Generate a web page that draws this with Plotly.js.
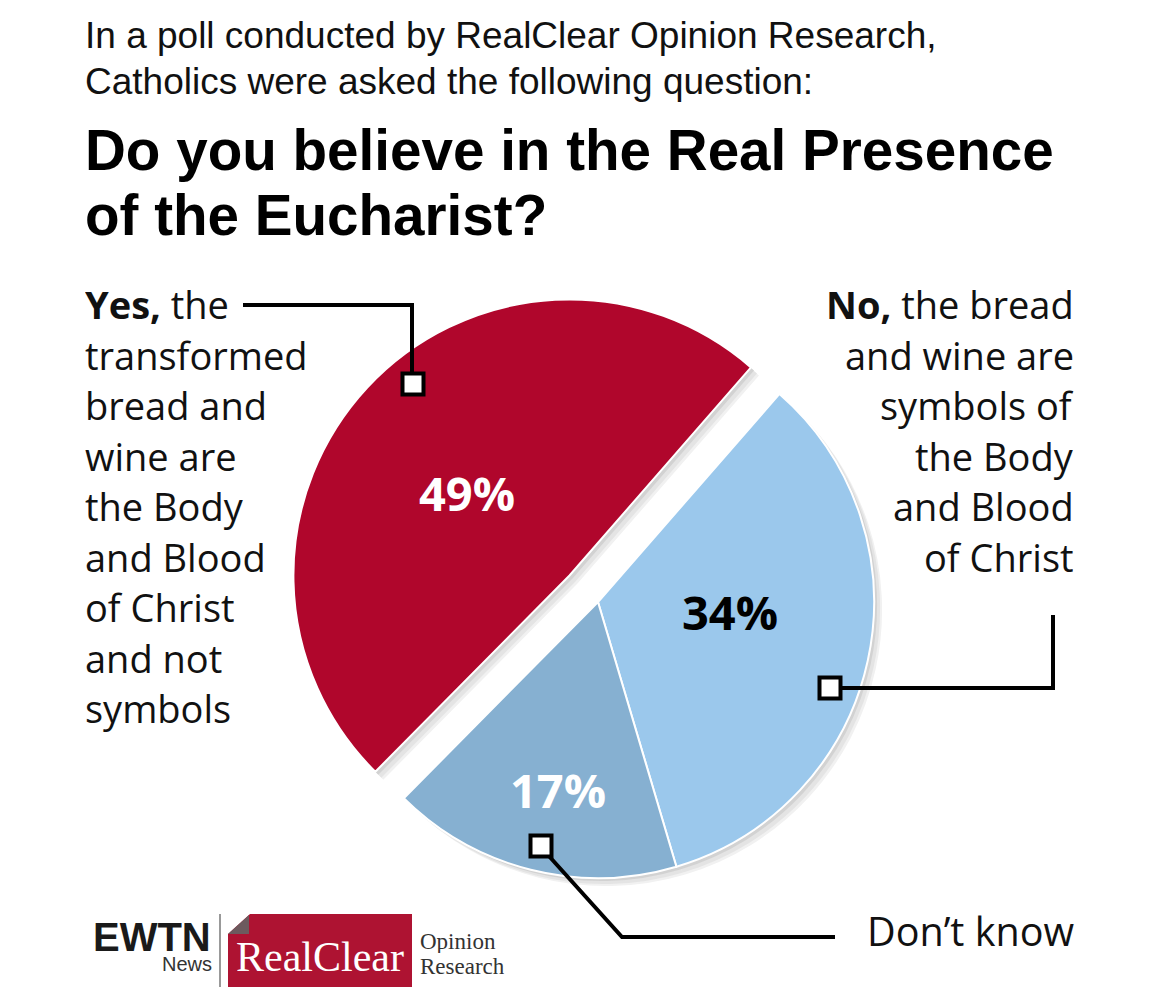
<!DOCTYPE html>
<html><head><meta charset="utf-8">
<script src="https://cdn.plot.ly/plotly-3.0.1.min.js"></script>
<style>html,body{margin:0;padding:0;background:#fff}</style></head>
<body><div id="chart" style="width:1154px;height:1008px"></div>
<script>
const categories = ["Yes", "No", "Don't know"];
const values = [49, 34, 17];
const sliceColors = ["#b0062c", "#9bc8ec", "#86b0d1"];
const pullAmounts = [0.141, 0, 0];
const introLines = ["In a poll conducted by RealClear Opinion Research,", "Catholics were asked the following question:"];
const titleLines = ["Do you believe in the Real Presence", "of the Eucharist?"];
const yesLines = ["<b>Yes,</b> the", "transformed", "bread and", "wine are", "the Body", "and Blood", "of Christ", "and not", "symbols"];
const noLines = ["<b>No,</b> the bread", "and wine are", "symbols of", "the Body", "and Blood", "of Christ"];
const otherLabel = "Don’t know";

const W = 1154, H = 1008;
const px = x => x / W, py = y => 1 - y / H;
const BODY = '"Open Sans", "Noto Sans", sans-serif';
const SANS = '"Liberation Sans", Arial, sans-serif';
const SERIF = '"Liberation Serif", serif';

function note(text, x, y, size, color, family, anchor, boxHeight) {
  const a = {text, x: px(x), y: py(y), xref: 'paper', yref: 'paper', xanchor: anchor || 'left', yanchor: 'middle',
    showarrow: false, align: anchor || 'left', font: {size, color, family}, borderpad: 0, borderwidth: 0};
  if (boxHeight) a.height = boxHeight;
  return a;
}
function pieTrace(dx, dy, colors, lineColor, lineWidth) {
  return {type: 'pie', labels: categories, values, sort: false, direction: 'clockwise', rotation: 224.7,
    pull: pullAmounts, textinfo: 'none', hoverinfo: 'label+percent', showlegend: false,
    marker: {colors, line: {color: lineColor, width: lineWidth}},
    domain: {x: [px(283 + dx), px(913 + dx)], y: [py(917 + dy), py(287 + dy)]}};
}
const flat = c => categories.map(() => c);
const traces = [
  pieTrace(8, 8, flat('#f1f1f1'), '#f1f1f1', 0),
  pieTrace(6, 6, flat('#e4e4e4'), '#e4e4e4', 0),
  pieTrace(3, 3, flat('#d2d2d2'), '#d2d2d2', 0),
  pieTrace(0, 0, sliceColors, '#ffffff', 2)
];

const annotations = [];
introLines.forEach((t, i) => annotations.push(note(t, 85, 35 + i * 46, 37, '#111', SANS, 'left', 44)));
titleLines.forEach((t, i) => annotations.push(note('<b>' + t + '</b>', 85, 150 + i * 65, 56.6, '#000', SANS, 'left', 64)));
yesLines.forEach((t, i) => annotations.push(note(t, 85, 304 + i * 50.5, 38, '#111', BODY, 'left', 50)));
noLines.forEach((t, i) => annotations.push(note(t, 1074, 304 + i * 50.5, 38, '#111', BODY, 'right', 50)));
annotations.push(note(otherLabel, 1074, 931, 39.5, '#111', BODY, 'right'));
annotations.push(note('<b>' + values[0] + '%</b>', 467, 493, 47, '#fff', BODY, 'center'));
annotations.push(note('<b>' + values[1] + '%</b>', 730, 612, 47, '#000', BODY, 'center'));
annotations.push(note('<b>' + values[2] + '%</b>', 558, 790, 47, '#fff', BODY, 'center'));
annotations.push(note('<b>EWTN</b>', 93, 937, 40, '#1a1a1a', SANS, 'left', 32));
annotations.push(note('News', 212, 964, 20, '#333', SANS, 'right', 20));
annotations.push(note('RealClear', 236, 957, 42, '#fff', SERIF));
annotations.push(note('Opinion', 420, 941, 23, '#333', SERIF, 'left', 24));
annotations.push(note('Research', 420, 966, 23, '#333', SERIF, 'left', 24));

function path(pts, extra) {
  return pts.map((p, i) => (i ? 'L' : 'M') + px(p[0]) + ',' + py(p[1])).join(' ') + (extra || '');
}
function lineShape(pts) {
  return {type: 'path', xref: 'paper', yref: 'paper', layer: 'above', path: path(pts), line: {color: '#000', width: 4}, fillcolor: 'rgba(0,0,0,0)'};
}
function box(cx, cy) {
  return {type: 'rect', xref: 'paper', yref: 'paper', layer: 'above', x0: px(cx - 10.5), x1: px(cx + 10.5), y0: py(cy - 10.5), y1: py(cy + 10.5),
    fillcolor: '#fff', line: {color: '#000', width: 4}};
}
const shapes = [
  lineShape([[243, 305], [412, 305], [412, 375]]),
  lineShape([[842, 688], [1053, 688], [1053, 615]]),
  lineShape([[548, 855], [622, 937], [835, 937]]),
  box(413, 384), box(830, 688), box(541, 846),
  {type: 'line', xref: 'paper', yref: 'paper', layer: 'above', x0: px(220), x1: px(220), y0: py(914), y1: py(987), line: {color: '#777', width: 1.5}},
  {type: 'path', xref: 'paper', yref: 'paper', layer: 'above', path: path([[250, 914], [412, 914], [412, 987], [228, 987], [228, 934]], ' Z'), fillcolor: '#ae1332', line: {width: 0}},
  {type: 'path', xref: 'paper', yref: 'paper', layer: 'above', path: path([[228, 934], [249, 915], [249, 934]], ' Z'), fillcolor: '#6d5a5e', line: {width: 0}}
];

Plotly.newPlot('chart', traces, {
  width: W, height: H, margin: {l: 0, r: 0, t: 0, b: 0}, paper_bgcolor: '#fff', plot_bgcolor: '#fff',
  showlegend: false, annotations, shapes
}, {displayModeBar: false, responsive: false});
</script></body></html>
